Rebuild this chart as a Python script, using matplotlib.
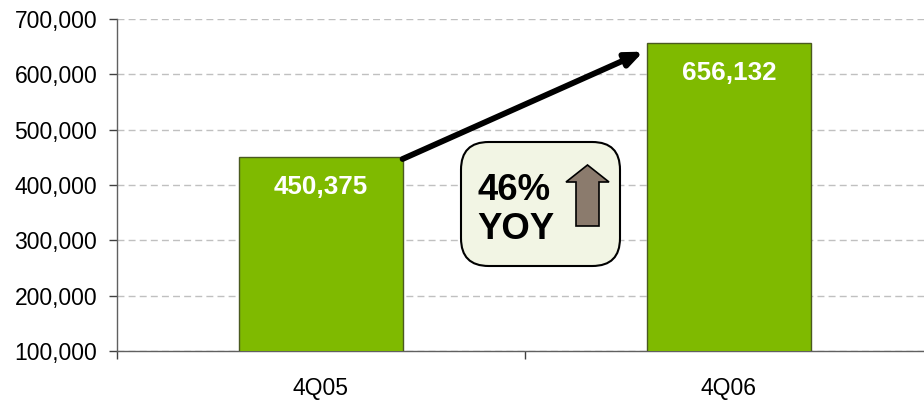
import matplotlib.pyplot as plt
from matplotlib.patches import FancyBboxPatch, Polygon
from matplotlib.ticker import FuncFormatter

# quarterly values
quarters = ["4Q05", "4Q06"]
values = [450375, 656132]
growth_pct = "46%"
growth_tag = "YOY"

plt.rcParams['font.family'] = ['Liberation Sans', 'DejaVu Sans']

W, H = 924, 400
fig = plt.figure(figsize=(W / 100, H / 100), dpi=100)

def px(x, y):
    # pixel position -> figure fraction
    return (x / W, 1 - y / H)

# the plot area runs a little past the right edge of the figure
ax = fig.add_axes([117 / W, 1 - 351 / H, 816 / W, (351 - 19) / H])

x = list(range(len(quarters)))
ax.bar(x, values, width=0.404, color='#7FBA00', edgecolor='#4A5A20', linewidth=1, zorder=3)

ax.set_ylim(100000, 700000)
ax.set_xlim(-0.5, 1.5)
ax.set_yticks(range(100000, 700001, 100000))
ax.yaxis.set_major_formatter(FuncFormatter(lambda v, p: f"{int(v):,}"))
ax.grid(axis='y', linestyle=(0, (5, 3)), color='#C0C0C0', linewidth=1, zorder=0)

# category boundaries as major ticks, names on minor ticks
ax.set_xticks([-0.5, 0.5, 1.5])
ax.set_xticklabels(["", "", ""])
ax.set_xticks(x, minor=True)
ax.set_xticklabels(quarters, minor=True)
ax.tick_params(axis='x', which='minor', length=0, pad=19, labelsize=16.5)
ax.tick_params(axis='x', which='major', length=5.8, width=1, color='#404040', direction='out')
ax.tick_params(axis='y', length=5.8, width=1, color='#404040', direction='out', pad=8.5, labelsize=16.5)

for s in ['top', 'right']:
    ax.spines[s].set_visible(False)
for s in ['left', 'bottom']:
    ax.spines[s].set_color('#606060')
    ax.spines[s].set_linewidth(1)

# value labels inside the bars
for xi, v in zip(x, values):
    ax.annotate(f"{v:,}", (xi, v), xytext=(0, -26.6), textcoords='offset points',
                ha='center', va='baseline', color='white', fontsize=18.7, fontweight='bold', zorder=4)

# growth arrow between bar tops
ax.annotate("", xy=(0.79, 641000), xytext=(0.2, 447000),
            arrowprops=dict(arrowstyle='-|>,head_length=1.0,head_width=0.42',
                            color='black', lw=4.2, shrinkA=0, shrinkB=0), zorder=5)

# callout box
bx0, by0 = px(461, 266)
bx1, by1 = px(620, 142)
box = FancyBboxPatch((bx0, by0), bx1 - bx0, by1 - by0, transform=fig.transFigure,
                     boxstyle="round,pad=0,rounding_size=0.03", mutation_aspect=W / H,
                     facecolor='#F2F5E4', edgecolor='black', linewidth=1.5, zorder=6)
fig.add_artist(box)
fig.text(*px(477, 200), growth_pct, ha='left', va='baseline', fontsize=26.3,
         fontweight='bold', zorder=7)
fig.text(*px(477, 239), growth_tag, ha='left', va='baseline', fontsize=26.3,
         fontweight='bold', zorder=7)

up = [px(576, 226), px(599, 226), px(599, 182), px(609, 182),
      px(587.5, 165), px(566, 182), px(576, 182)]
fig.add_artist(Polygon(up, closed=True, transform=fig.transFigure,
                       facecolor='#8B7B6D', edgecolor='black', linewidth=1.2, zorder=7))

fig.savefig("out.png", dpi=100)
